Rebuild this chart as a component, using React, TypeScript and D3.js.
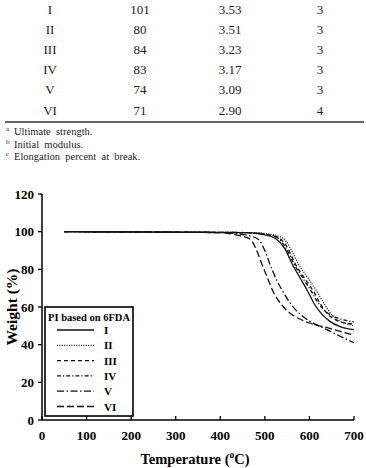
import React from 'react';
import * as d3 from 'd3';

// table rows
const samples = ['I', 'II', 'III', 'IV', 'V', 'VI'];
const strength = ['101', '80', '84', '83', '74', '71'];
const modulus = ['3.53', '3.51', '3.23', '3.17', '3.09', '2.90'];
const elongation = ['3', '3', '3', '3', '3', '4'];
const footnotes = [
  ['a', 'Ultimate  strength.'],
  ['b', 'Initial  modulus.'],
  ['c', 'Elongation  percent  at  break.'],
];

// TGA curves: [temperature, weight %]
const curveI = [[50, 100], [450, 99.5], [500, 98.3], [523, 96.5], [545, 91], [561, 83], [580, 75], [597, 68], [610, 62], [625, 57], [645, 52.5], [670, 49.5], [700, 48]];
const curveII = [[50, 100], [470, 99.5], [515, 98.5], [541, 96.5], [558, 91], [575, 83], [598, 75], [620, 67], [635, 61], [650, 56], [665, 53], [685, 51], [700, 50]];
const curveIII = [[50, 100], [460, 99.5], [510, 98.2], [533, 96.5], [552, 91], [568, 83], [590, 75], [610, 68], [625, 61.5], [640, 56.5], [660, 53], [680, 51.5], [700, 51]];
const curveIV = [[50, 100], [460, 99.5], [510, 98.2], [530, 96.5], [548, 91], [565, 83], [586, 75], [605, 68], [620, 62], [640, 57], [665, 54], [690, 52.5], [700, 52]];
const curveV = [[50, 100], [400, 99.5], [450, 98.5], [485, 96], [498, 91], [511, 83], [525, 75], [541, 68], [560, 61], [580, 56], [600, 52.5], [630, 49], [660, 45.5], [700, 41]];
const curveVI = [[50, 100], [400, 99.5], [440, 98], [467, 96], [480, 91], [493, 83], [505, 76], [519, 68], [535, 62], [555, 57], [575, 54], [600, 51.5], [640, 49], [670, 47], [700, 45]];

const series = [
  { name: 'I', data: curveI, dash: '' },
  { name: 'II', data: curveII, dash: '1,1.4' },
  { name: 'III', data: curveIII, dash: '4,3' },
  { name: 'IV', data: curveIV, dash: '4,2,1.2,2' },
  { name: 'V', data: curveV, dash: '7,2.5,1.5,2.5' },
  { name: 'VI', data: curveVI, dash: '7,3' },
];

const xTicks = [0, 100, 200, 300, 400, 500, 600, 700];
const yTicks = [0, 20, 40, 60, 80, 100, 120];

const serif = '"Liberation Serif", "DejaVu Serif", serif';

export default function App() {
  const x = d3.scaleLinear().domain([0, 700]).range([42, 354]);
  const y = d3.scaleLinear().domain([0, 120]).range([420, 194]);
  const line = d3.line<number[]>().x(d => x(d[0])).y(d => y(d[1])).curve(d3.curveMonotoneX);

  const colX = [50, 140, 230, 320];
  const rowY = (i: number) => 13.5 + i * 20.2;

  return (
    <svg width={366} height={468} style={{ position: 'absolute', left: 0, top: 0, background: '#fff' }}>
      {/* table */}
      <g fontFamily={serif} fontSize={13} fill="#222" textAnchor="middle">
        {samples.map((s, i) => (
          <g key={s}>
            <text x={colX[0]} y={rowY(i)}>{s}</text>
            <text x={colX[1]} y={rowY(i)}>{strength[i]}</text>
            <text x={colX[2]} y={rowY(i)}>{modulus[i]}</text>
            <text x={colX[3]} y={rowY(i)}>{elongation[i]}</text>
          </g>
        ))}
      </g>
      <line x1={5} x2={364} y1={122} y2={122} stroke="#666" strokeWidth={2} />
      <g fontFamily={serif} fill="#222">
        {footnotes.map((f, i) => (
          <g key={f[0]}>
            <text x={6} y={131 + i * 12.5} fontSize={7}>{f[0]}</text>
            <text x={14} y={135 + i * 12.5} fontSize={10.5} style={{ whiteSpace: 'pre' }}>{f[1]}</text>
          </g>
        ))}
      </g>

      {/* chart */}
      <g fontFamily={serif} fontWeight="bold" fill="#000">
        {/* curves */}
        {series.map(s => (
          <path key={s.name} d={line(s.data) || ''} fill="none" stroke="#111" strokeWidth={1.3}
            strokeDasharray={s.dash || undefined} />
        ))}

        {/* legend */}
        <rect x={45} y={307} width={88} height={109} fill="#fff" stroke="#000" strokeWidth={1.6} />
        <text x={89} y={321} fontSize={10.5} textAnchor="middle">PI based on 6FDA</text>
        {series.map((s, i) => {
          const ly = 330 + i * 15.3;
          return (
            <g key={s.name}>
              <line x1={57} x2={94} y1={ly} y2={ly} stroke="#111" strokeWidth={1.3}
                strokeDasharray={s.dash || undefined} />
              <text x={104} y={ly + 4} fontSize={11}>{s.name}</text>
            </g>
          );
        })}

        {/* axes */}
        <line x1={x(0)} x2={x(0)} y1={y(120)} y2={y(0)} stroke="#000" strokeWidth={1.5} />
        <line x1={x(0)} x2={x(700)} y1={y(0)} y2={y(0)} stroke="#000" strokeWidth={1.5} />
        {yTicks.map(t => (
          <g key={t}>
            <line x1={x(0) - 4} x2={x(0)} y1={y(t)} y2={y(t)} stroke="#000" strokeWidth={1.3} />
            <text x={x(0) - 8} y={y(t) + 4.5} fontSize={13} textAnchor="end">{t}</text>
          </g>
        ))}
        {xTicks.map(t => (
          <g key={t}>
            <line x1={x(t)} x2={x(t)} y1={y(0) - 4} y2={y(0)} stroke="#000" strokeWidth={1.3} />
            <text x={x(t)} y={439.5} fontSize={13} textAnchor="middle">{t}</text>
          </g>
        ))}
        <text transform="translate(17,307) rotate(-90)" fontSize={15.5} textAnchor="middle">Weight (%)</text>
        <text x={195} y={464} fontSize={14.5} textAnchor="middle">
          Temperature (<tspan fontSize={9.5} dy={-6}>o</tspan><tspan dy={6}>C)</tspan>
        </text>
      </g>
    </svg>
  );
}
